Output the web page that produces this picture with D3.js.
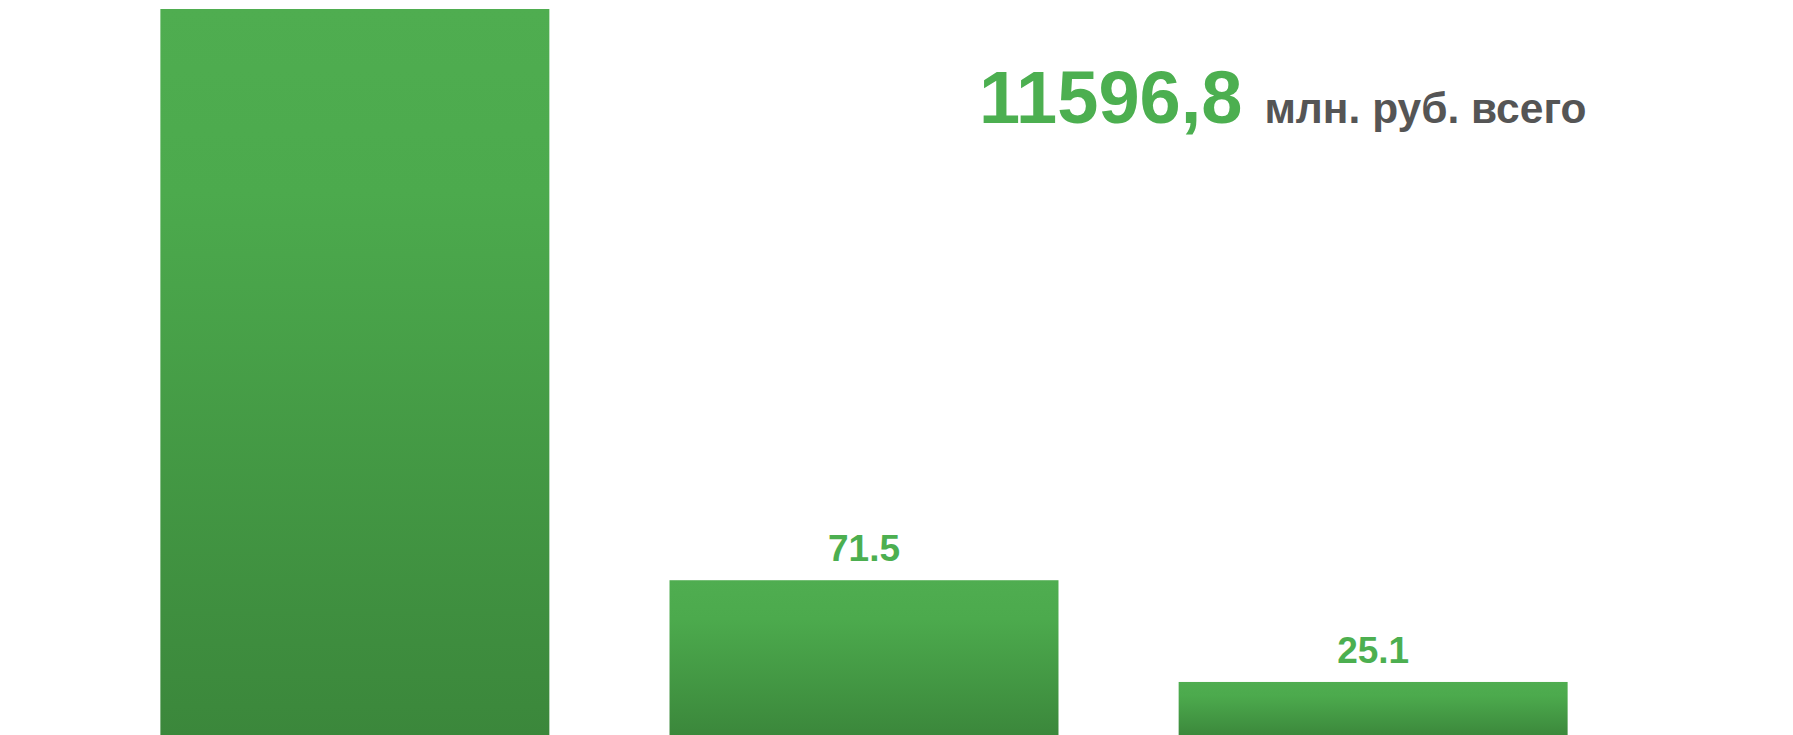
<!DOCTYPE html>
<html>
<head>
<meta charset="utf-8">
<script src="https://cdn.jsdelivr.net/npm/d3@7"></script>
<style>
  html, body { margin: 0; padding: 0; background: #fff; overflow: hidden; }
  svg { display: block; font-family: "Liberation Sans", Arial, sans-serif; }
</style>
</head>
<body>
<div id="chart"></div>
<script>
// chart data
const categories = ["Группа 1", "Группа 2", "Группа 3"];
const values = [11500.2, 71.5, 25.1];
const totalValue = "11596,8";
const totalUnit = "млн. руб. всего";

const W = 1793, H = 735;
const margin = { top: 9, right: 65, bottom: -2, left: 0 };

const svg = d3.select("#chart").append("svg")
  .attr("width", W)
  .attr("height", H);

// vertical gradient for bars
const grad = svg.append("defs").append("linearGradient")
  .attr("id", "barGrad")
  .attr("x1", 0).attr("y1", 0).attr("x2", 0).attr("y2", 1);
grad.append("stop").attr("offset", "0%").attr("stop-color", "#4fad50");
grad.append("stop").attr("offset", "25%").attr("stop-color", "#4caa4d");
grad.append("stop").attr("offset", "100%").attr("stop-color", "#3b873b");

const x = d3.scaleBand()
  .domain(categories)
  .range([margin.left, W - margin.right])
  .paddingInner(0.236)
  .paddingOuter(0.315);

// first bar runs off the top, so clamp it to the plot area
const y = d3.scaleLinear()
  .domain([0, 332])
  .range([H - margin.bottom, margin.top])
  .clamp(true);

const rows = categories.map((c, i) => ({ cat: c, val: values[i] }));

svg.selectAll("rect.bar")
  .data(rows)
  .join("rect")
  .attr("class", "bar")
  .attr("x", d => x(d.cat))
  .attr("y", d => y(d.val))
  .attr("width", x.bandwidth())
  .attr("height", d => y(0) - y(d.val))
  .attr("fill", "url(#barGrad)");

// value labels above bars (the tall one is off-screen)
svg.selectAll("text.lbl")
  .data(rows.filter(d => d.val <= y.domain()[1]))
  .join("text")
  .attr("class", "lbl")
  .attr("x", d => x(d.cat) + x.bandwidth() / 2)
  .attr("y", d => y(d.val) - 19)
  .attr("text-anchor", "middle")
  .style("font-size", "37px")
  .style("font-weight", "bold")
  .style("fill", "#4caf50")
  .text(d => d3.format(".1f")(d.val));

// total headline
const head = svg.append("text")
  .attr("x", 979)
  .attr("y", 123)
  .style("font-weight", "bold");
head.append("tspan")
  .style("font-size", "74px")
  .style("fill", "#4caf50")
  .text(totalValue);
head.append("tspan")
  .attr("dx", 22)
  .style("font-size", "42.5px")
  .style("fill", "#555555")
  .text(totalUnit);
</script>
</body>
</html>
